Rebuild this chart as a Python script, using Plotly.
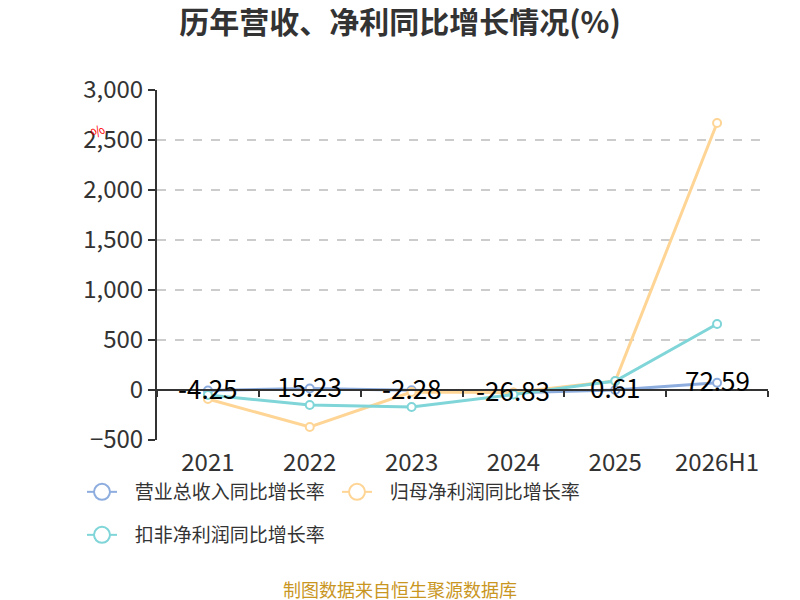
import plotly.graph_objects as go

# datos del grafico
years = ["2021", "2022", "2023", "2024", "2025", "2026H1"]
revenue_growth = [-4.25, 15.23, -2.28, -26.83, 0.61, 72.59]
parent_profit_growth = [-90, -370, -20, -25, 90, 2670]
deducted_profit_growth = [-50, -150, -170, -45, 90, 660]
y_ticks = [-500, 0, 500, 1000, 1500, 2000, 2500, 3000]

FONT = "Noto Sans CJK SC"
colors = ["#8eaddf", "#ffd596", "#7fd5d8"]
names = ["营业总收入同比增长率", "归母净利润同比增长率", "扣非净利润同比增长率"]
legend_ids = ["legend", "legend2", "legend3"]

# la pagina tiene 8px de margen en el body
OFF = 8
# area de trazado en pixeles (coordenadas de la captura)
L, R, T, B = 157, 768, 90, 440
W, H = R - L, B - T


def px_x(x):
    return (x - L) / W


def px_y(y):
    return (B - y) / H


fig = go.Figure()

series = [revenue_growth, parent_profit_growth, deducted_profit_growth]
for i, vals in enumerate(series):
    fig.add_trace(go.Scatter(
        x=years, y=vals, name=names[i], showlegend=False,
        mode="lines+markers",
        line=dict(color=colors[i], width=3),
        marker=dict(symbol="circle", size=8, color="#ffffff",
                    line=dict(color=colors[i], width=2)),
        cliponaxis=False,
    ))

# entradas de leyenda (simbolo mas grande, linea fina)
for i in range(3):
    fig.add_trace(go.Scatter(
        x=[None], y=[None], name="\u00a0\u00a0\u00a0" + names[i],
        legend=legend_ids[i], mode="lines+markers",
        line=dict(color=colors[i], width=2),
        marker=dict(symbol="circle", size=16, color="#ffffff",
                    line=dict(color=colors[i], width=2)),
    ))

# eje x auxiliar para la linea en cero
fig.add_trace(go.Scatter(x=years, y=[0] * len(years), xaxis="x2",
                         mode="lines", line=dict(width=0),
                         showlegend=False, hoverinfo="skip"))

legend_style = dict(orientation="h", xanchor="left", yanchor="middle",
                    itemsizing="trace", bgcolor="rgba(0,0,0,0)",
                    font=dict(family=FONT, size=19, color="#333333"))

fig.update_layout(
    width=800, height=600,
    paper_bgcolor="white", plot_bgcolor="white",
    margin=dict(l=L - OFF, r=800 - R + OFF, t=T - OFF, b=600 - B + OFF),
    title=dict(text="<b>历年营收、净利同比增长情况(%)</b>",
               x=(400 - OFF) / 800, xanchor="center",
               y=1 - (22 - OFF) / 600, yanchor="middle",
               font=dict(family=FONT, size=30, color="#333333")),
    font=dict(family=FONT, color="#333333"),
    xaxis=dict(type="category", categoryarray=years, range=[-0.5, 5.5],
               showline=False, showgrid=False, ticks="", zeroline=False,
               ticklabelstandoff=6,
               tickfont=dict(family=FONT, size=24, color="#333333")),
    xaxis2=dict(type="category", categoryarray=years, range=[-0.5, 5.5],
                overlaying="x", anchor="free", position=500 / 3500,
                showline=True, linecolor="#333333", linewidth=2,
                ticks="outside", tickson="boundaries", ticklen=6,
                tickwidth=2, tickcolor="#333333",
                showticklabels=False, showgrid=False),
    yaxis=dict(range=[-500, 3000], tickvals=y_ticks, tickformat=",",
               showline=True, linecolor="#333333", linewidth=2,
               ticks="outside", ticklen=7, tickwidth=2, tickcolor="#333333",
               showgrid=True, gridcolor="#cccccc", griddash="dash",
               gridwidth=1.5, zeroline=False,
               tickfont=dict(family=FONT, size=24, color="#333333")),
    legend=dict(legend_style, x=px_x(82), y=px_y(492)),
    legend2=dict(legend_style, x=px_x(337), y=px_y(492)),
    legend3=dict(legend_style, x=px_x(82), y=px_y(535)),
    showlegend=True,
)

# etiquetas de la serie de ingresos, un poco por encima del punto
# (x como indice de categoria: "2021" se leeria como numero)
for idx, v in enumerate(revenue_growth):
    fig.add_annotation(x=idx, y=v, text=f"{v:.2f}", showarrow=False,
                       xanchor="center", yanchor="middle", yshift=3,
                       font=dict(family=FONT, size=26, color="#000000"))

fig.add_annotation(text="制图数据来自恒生聚源数据库", xref="paper", yref="paper",
                   x=px_x(400), y=px_y(589), xanchor="center", yanchor="middle",
                   showarrow=False,
                   font=dict(family=FONT, size=18, color="#c9961f"))

fig.add_annotation(text="%", xref="paper", yref="paper",
                   x=px_x(97), y=px_y(131), xanchor="center", yanchor="middle",
                   showarrow=False, textangle=-35,
                   font=dict(family=FONT, size=14, color="#ff0000"))

fig.write_html("out.html")
